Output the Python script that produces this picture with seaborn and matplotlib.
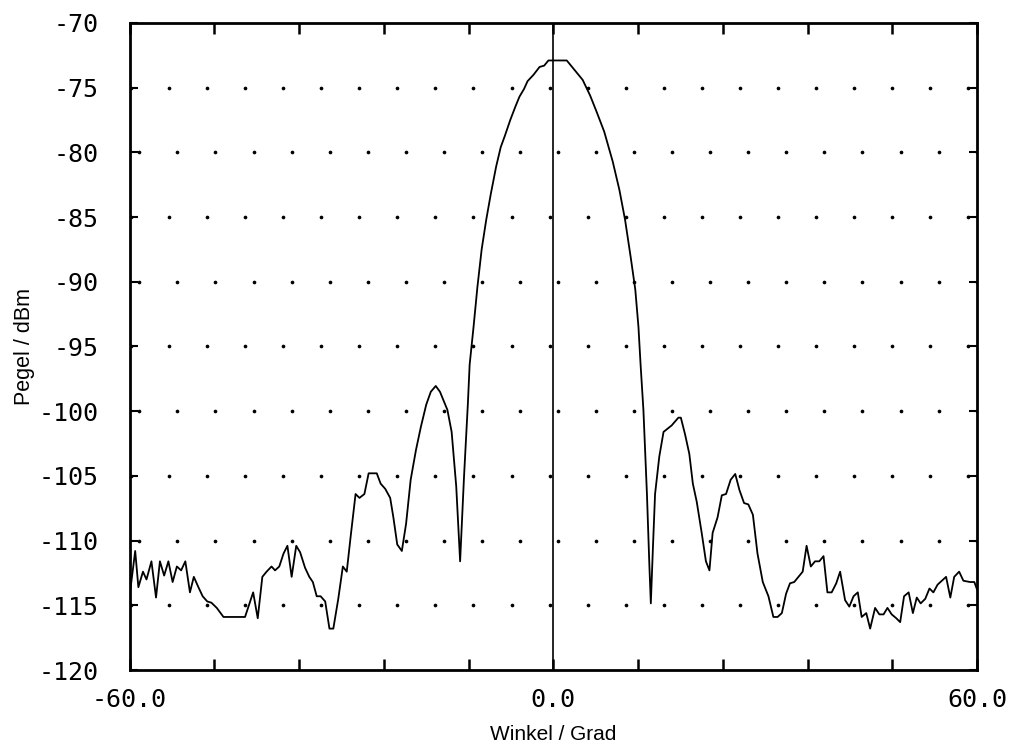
import numpy as np
import pandas as pd
import seaborn as sns
import matplotlib.pyplot as plt
from matplotlib.ticker import MultipleLocator, FixedLocator, FixedFormatter, FuncFormatter

# Antenna pattern (angle in degrees, level in dBm)
angle = [-60.0, -59.2, -58.75, -58.1, -57.6, -56.9, -56.25, -55.7, -55.1, -54.5,
         -53.9, -53.3, -52.7, -52.1, -51.45, -50.9, -50.25, -49.65, -49.0, -48.4,
         -47.65, -46.7, -45.3, -43.65, -42.5, -41.85, -41.2, -40.6, -39.9, -39.4,
         -38.8, -38.2, -37.65, -37.05, -36.4, -35.85, -35.15, -34.55, -34.05, -33.5,
         -32.95, -32.3, -31.7, -31.15, -30.45, -29.8, -29.25, -28.7, -28.0, -27.45,
         -26.75, -26.15, -25.0, -24.45, -23.8, -23.1, -22.65, -22.1, -21.45, -20.85,
         -20.2, -19.45, -18.75, -18.0, -17.35, -16.65, -16.05, -15.0, -14.4, -13.75,
         -13.2, -12.65, -12.1, -11.85, -11.3, -10.75, -10.15, -9.5, -8.85, -8.1,
         -7.45, -6.85, -6.1, -5.4, -4.8, -4.15, -3.65, -2.8, -1.95, -1.3,
         -0.7, 1.9, 2.95, 4.15, 5.2, 6.15, 7.2, 8.4, 9.35, 10.15,
         10.95, 11.6, 12.05, 12.35, 12.75, 13.25, 13.6, 13.8, 14.1, 14.4,
         15.0, 15.6, 16.75, 17.7, 18.05, 18.65, 19.25, 19.75, 20.3, 21.0,
         21.6, 22.1, 22.55, 23.25, 23.85, 24.45, 25.1, 25.75, 26.35, 27.0,
         27.6, 28.25, 28.9, 29.65, 30.45, 31.15, 31.75, 32.35, 32.95, 33.5,
         34.1, 34.7, 35.3, 35.85, 36.45, 37.05, 37.65, 38.25, 38.8, 39.4,
         40.05, 40.6, 41.3, 41.9, 42.5, 43.1, 43.65, 44.3, 44.85, 45.55,
         46.15, 46.75, 47.3, 47.9, 48.55, 49.1, 49.65, 50.3, 50.9, 51.45,
         52.0, 52.65, 53.25, 53.8, 54.4, 55.0, 55.6, 56.2, 56.75, 57.45,
         58.05, 59.0, 59.6, 60.0]
level = [-114.3, -110.8, -113.6, -112.4, -113.0, -111.6, -114.4, -111.6, -112.7, -111.6,
         -113.2, -112.0, -112.3, -111.6, -114.0, -112.8, -113.6, -114.3, -114.7, -114.8,
         -115.2, -115.9, -115.9, -115.9, -114.0, -116.0, -112.8, -112.4, -112.0, -112.3,
         -112.0, -111.0, -110.4, -112.8, -110.4, -110.9, -112.1, -112.8, -113.2, -114.3,
         -114.3, -114.7, -116.8, -116.8, -114.5, -112.0, -112.4, -109.7, -106.4, -106.7,
         -106.4, -104.8, -104.8, -105.6, -106.0, -106.7, -108.2, -110.3, -110.8, -108.7,
         -105.3, -103.0, -101.2, -99.5, -98.5, -98.05, -98.5, -99.9, -101.6, -105.8,
         -111.6, -105.1, -99.4, -96.4, -93.5, -90.4, -87.5, -85.2, -83.2, -81.1,
         -79.6, -78.7, -77.5, -76.5, -75.7, -75.1, -74.5, -74.0, -73.4, -73.3,
         -72.9, -72.9, -73.6, -74.4, -75.6, -76.9, -78.4, -80.7, -82.9, -85.2,
         -88.1, -90.6, -93.5, -96.4, -99.9, -106.4, -112.0, -114.85, -110.5, -106.4,
         -103.5, -101.6, -101.1, -100.5, -100.5, -101.8, -103.3, -105.6, -107.0, -109.4,
         -111.6, -112.3, -109.4, -108.2, -106.5, -106.4, -105.3, -104.85, -106.1, -107.1,
         -107.2, -108.0, -111.0, -113.2, -114.3, -115.9, -115.9, -115.6, -114.1, -113.3,
         -113.2, -112.8, -112.4, -110.4, -112.0, -111.6, -111.6, -111.2, -114.0, -114.0,
         -113.3, -112.4, -114.6, -115.1, -114.3, -114.0, -115.9, -115.6, -116.8, -115.2,
         -115.7, -115.7, -115.2, -115.7, -116.0, -116.3, -114.3, -114.0, -115.6, -114.4,
         -114.85, -114.5, -113.7, -114.0, -113.4, -113.1, -112.8, -114.4, -112.8, -112.4,
         -113.1, -113.2, -113.2, -113.8]

y_ticks = [-120, -115, -110, -105, -100, -95, -90, -85, -80, -75, -70]
x_labels = {-60: "-60.0", 0: "0.0", 60: "60.0"}

df = pd.DataFrame({"Winkel": angle, "Pegel": level})

sns.set_style("white")
plt.rcParams["axes.unicode_minus"] = False
plt.rcParams["font.family"] = ["Liberation Sans", "DejaVu Sans"]
plt.rcParams["text.color"] = "black"
plt.rcParams["axes.labelcolor"] = "black"
plt.rcParams["xtick.color"] = "black"
plt.rcParams["ytick.color"] = "black"

fig = plt.figure(figsize=(10.2, 7.52), dpi=100)
ax = fig.add_axes([0.127, 0.109, 0.831, 0.8605])

# plotter-style dotted grid, rows alternate in phase
step = 5.388
for lv in range(-115, -70, 5):
    start = -58.61 if (lv % 10 == 0) else -54.41
    xs = start + step * np.arange(-1, 24)
    xs = xs[(xs > -60.2) & (xs < 60.2)]
    ax.scatter(xs, np.full_like(xs, lv), s=7, color="black", linewidths=0, zorder=1)

ax.axvline(0, color="black", lw=1.2, zorder=2)
sns.lineplot(data=df, x="Winkel", y="Pegel", ax=ax, color="black", lw=1.3,
             sort=False, estimator=None, zorder=3)

ax.set_xlim(-60, 60)
ax.set_ylim(-120, -70)
ax.xaxis.set_major_locator(MultipleLocator(12))
ax.xaxis.set_major_formatter(FuncFormatter(lambda v, p: x_labels.get(int(round(v)), "")))
ax.yaxis.set_major_locator(FixedLocator(y_ticks))
ax.yaxis.set_major_formatter(FixedFormatter([str(t) for t in y_ticks]))

ax.tick_params(axis="x", direction="in", length=8, width=1.8, top=True,
               bottom=True, pad=13, labelsize=18)
ax.tick_params(axis="y", direction="in", length=6, width=1.5, left=True,
               right=True, pad=22, labelsize=18)
for lab in ax.get_yticklabels() + ax.get_xticklabels():
    lab.set_family("DejaVu Sans Mono")

for sp in ax.spines.values():
    sp.set_visible(True)
    sp.set_color("black")
    sp.set_linewidth(2.0)

ax.set_xlabel("Winkel / Grad", fontsize=15, labelpad=9)
ax.set_ylabel("Pegel / dBm", fontsize=15.5, labelpad=3)

fig.savefig("out.png", dpi=100, facecolor="white")
